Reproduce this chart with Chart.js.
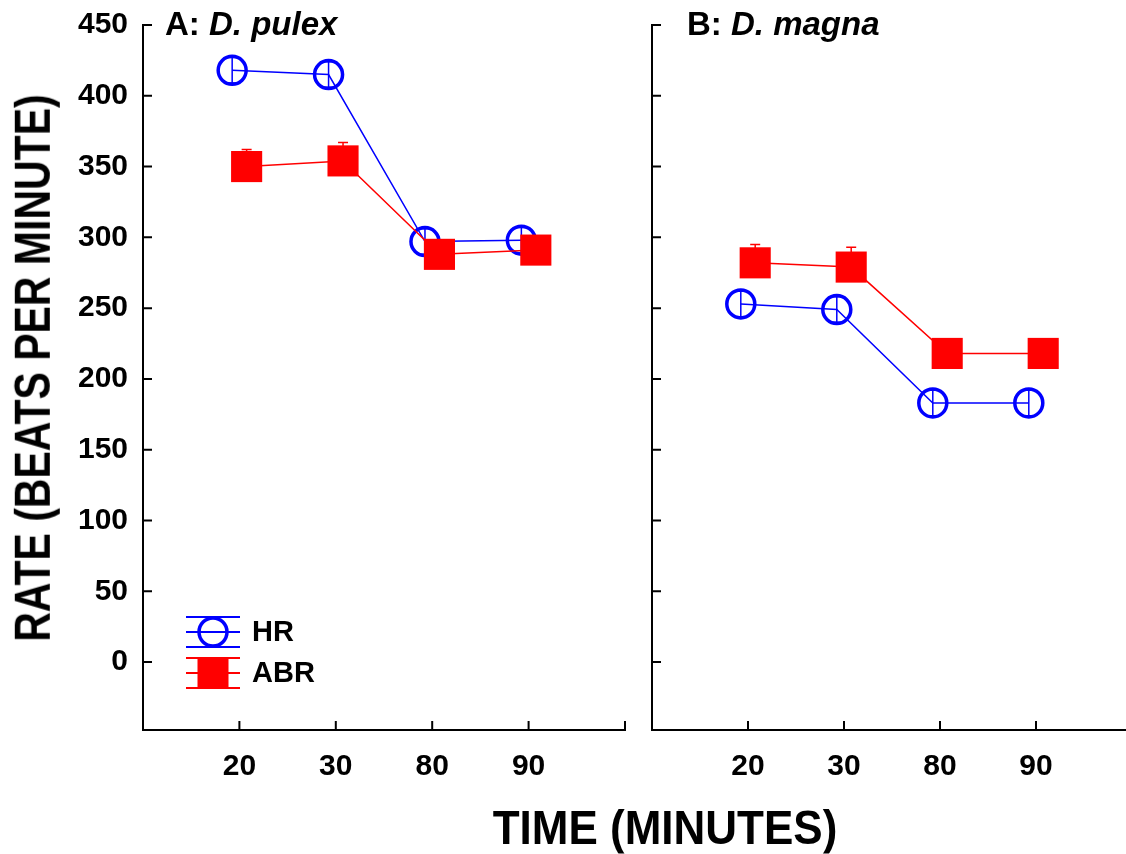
<!DOCTYPE html>
<html><head><meta charset="utf-8">
<script src="https://cdn.jsdelivr.net/npm/chart.js@4.4.1/dist/chart.umd.min.js"></script>
<style>
html,body{margin:0;padding:0;width:1126px;height:854px;overflow:hidden;background:#fff;position:relative;}
#wrapA{position:absolute;left:0;top:0;width:647px;height:854px;}
#wrapB{position:absolute;left:630px;top:0;width:524px;height:854px;}
.ttl{position:absolute;font-family:"Liberation Sans",Arial,sans-serif;font-weight:bold;color:#000;white-space:nowrap;line-height:1;}
#yt{left:34px;top:368px;font-size:41px;transform:translate(-50%,-50%) rotate(-90deg) scaleY(1.2);}
#xt{left:665px;top:827px;font-size:44px;transform:translate(-50%,-50%) scaleY(1.1);}
</style></head><body>
<div id="wrapA"><canvas id="cA" width="647" height="854"></canvas></div>
<div id="wrapB"><canvas id="cB" width="524" height="854"></canvas></div>
<div class="ttl" id="yt">RATE (BEATS PER MINUTE)</div>
<div class="ttl" id="xt">TIME (MINUTES)</div>
<script>
// ---- data ----
const timeLabels = ['20', '30', '80', '90'];
const yTickValues = [0, 50, 100, 150, 200, 250, 300, 350, 400, 450];
const pulexHR = [418, 415, 297, 298];
const pulexHRErr = [9, 9, 9, 9];
const pulexABR = [350, 354, 288, 291];
const pulexABRErr = [12, 13, 6, 6];
const magnaHR = [253, 249, 183, 183];
const magnaHRErr = [9, 9, 9, 9];
const magnaABR = [282, 279, 218, 218];
const magnaABRErr = [13, 14, 6, 6];

const FONT = '"Liberation Sans", Arial, sans-serif';
const BLUE = '#0000ff', RED = '#ff0000';
const JIT = 0.075;

function datasets(hr, hrErr, abr, abrErr) {
  return [
    { label: 'ABR', data: abr.map((v, i) => ({ x: i + 1 + JIT, y: v })), err: abrErr, errDown: false,
      borderColor: RED, backgroundColor: RED, pointBackgroundColor: RED, pointBorderColor: RED,
      borderWidth: 1.5, pointStyle: 'rect', pointRadius: 22, pointBorderWidth: 0, fill: false, tension: 0 },
    { label: 'HR', data: hr.map((v, i) => ({ x: i + 1 - JIT, y: v })), err: hrErr, errDown: true,
      borderColor: BLUE, backgroundColor: 'rgba(0,0,0,0)', pointBackgroundColor: 'rgba(0,0,0,0)', pointBorderColor: BLUE,
      borderWidth: 1.5, pointStyle: 'circle', pointRadius: 14, pointBorderWidth: 3.5, fill: false, tension: 0 }
  ];
}

const errorBars = {
  id: 'errorBars',
  beforeDatasetsDraw(chart) {
    const ctx = chart.ctx, ys = chart.scales.y;
    chart.data.datasets.forEach((ds, di) => {
      const meta = chart.getDatasetMeta(di);
      ctx.save();
      ctx.strokeStyle = ds.borderColor; ctx.lineWidth = 1.5;
      meta.data.forEach((pt, i) => {
        const v = ds.data[i].y, e = ds.err[i];
        const y1 = ys.getPixelForValue(v + e);
        const y2 = ds.errDown ? ys.getPixelForValue(v - e) : pt.y;
        ctx.beginPath();
        ctx.moveTo(pt.x, y1); ctx.lineTo(pt.x, y2);
        ctx.moveTo(pt.x - 5, y1); ctx.lineTo(pt.x + 5, y1);
        if (ds.errDown) { ctx.moveTo(pt.x - 5, y2); ctx.lineTo(pt.x + 5, y2); }
        ctx.stroke();
      });
      ctx.restore();
    });
  }
};

const inTicks = {
  id: 'inTicks',
  afterDraw(chart) {
    const ctx = chart.ctx, { left, bottom } = chart.chartArea;
    ctx.save(); ctx.strokeStyle = '#000'; ctx.lineWidth = 2;
    ctx.beginPath();
    yTickValues.forEach(v => { const y = chart.scales.y.getPixelForValue(v); ctx.moveTo(left, y); ctx.lineTo(left + 9, y); });
    for (let p = 1; p <= timeLabels.length + 1; p++) {
      const x = chart.scales.x.getPixelForValue(p); ctx.moveTo(x, bottom); ctx.lineTo(x, bottom - 9);
    }
    ctx.stroke(); ctx.restore();
  }
};

const panelTitle = {
  id: 'panelTitle',
  afterDraw(chart, args, opts) {
    const ctx = chart.ctx, { left, top } = chart.chartArea;
    ctx.save(); ctx.fillStyle = '#000'; ctx.textBaseline = 'middle';
    let x = left + opts.dx;
    ctx.font = 'bold 33px ' + FONT;
    ctx.fillText(opts.prefix, x, top + 1);
    x += ctx.measureText(opts.prefix).width;
    ctx.font = 'italic bold 33px ' + FONT;
    ctx.fillText(opts.species, x, top + 1);
    ctx.restore();
  }
};

const errLegend = {
  id: 'errLegend',
  afterDraw(chart, args, opts) {
    if (!opts.show) return;
    const ctx = chart.ctx, { left, bottom } = chart.chartArea;
    const cx = left + 70;
    const items = [
      { label: 'HR', color: BLUE, cy: bottom - 98, kind: 'circle' },
      { label: 'ABR', color: RED, cy: bottom - 57, kind: 'rect' }
    ];
    items.forEach(it => {
      ctx.save();
      ctx.strokeStyle = it.color; ctx.lineWidth = 2;
      ctx.beginPath();
      [-15, 0, 15].forEach(d => { ctx.moveTo(cx - 27, it.cy + d); ctx.lineTo(cx + 27, it.cy + d); });
      ctx.stroke();
      if (it.kind === 'circle') {
        ctx.lineWidth = 3.5; ctx.beginPath(); ctx.arc(cx, it.cy, 14, 0, Math.PI * 2); ctx.stroke();
      } else {
        ctx.fillStyle = it.color; ctx.fillRect(cx - 15.5, it.cy - 15.5, 31, 31);
      }
      ctx.fillStyle = '#000'; ctx.font = 'bold 29px ' + FONT; ctx.textBaseline = 'middle';
      ctx.fillText(it.label, cx + 39, it.cy + 1);
      ctx.restore();
    });
  }
};

function makeChart(id, ds, title, isLeft) {
  return new Chart(document.getElementById(id), {
    type: 'line',
    data: { datasets: ds },
    plugins: [errorBars, inTicks, panelTitle, errLegend],
    options: {
      responsive: false, animation: false, devicePixelRatio: 1,
      layout: { padding: { top: 25, right: isLeft ? 15 : 8, left: 0, bottom: 0 } },
      plugins: {
        legend: { display: false }, tooltip: { enabled: false },
        panelTitle: title, errLegend: { show: isLeft }
      },
      scales: {
        x: {
          type: 'linear', min: 0, max: timeLabels.length + 1,
          grid: { display: false, drawTicks: false },
          border: { display: true, color: '#000', width: 2 },
          ticks: { stepSize: 1, autoSkip: false, maxRotation: 0, padding: 19, color: '#000',
            font: { family: FONT, size: 30, weight: 'bold' },
            callback: v => timeLabels[v - 1] ?? '' },
          afterFit: s => { s.height = 124; s.paddingLeft = 0; s.paddingRight = 0; }
        },
        y: {
          min: -48, max: 450,
          grid: { display: false, drawTicks: false },
          border: { display: true, color: '#000', width: 2 },
          ticks: { display: isLeft, padding: 15, color: '#000', autoSkip: false,
            font: { family: FONT, size: 30, weight: 'bold' } },
          afterBuildTicks: s => { s.ticks = yTickValues.map(v => ({ value: v })); },
          afterFit: s => { s.width = isLeft ? 143 : 12; s.paddingTop = 0; s.paddingBottom = 0; }
        }
      }
    }
  });
}

makeChart('cA', datasets(pulexHR, pulexHRErr, pulexABR, pulexABRErr), { prefix: 'A: ', species: 'D. pulex', dx: 22 }, true);
makeChart('cB', datasets(magnaHR, magnaHRErr, magnaABR, magnaABRErr), { prefix: 'B: ', species: 'D. magna', dx: 35 }, false);
</script>
</body></html>
